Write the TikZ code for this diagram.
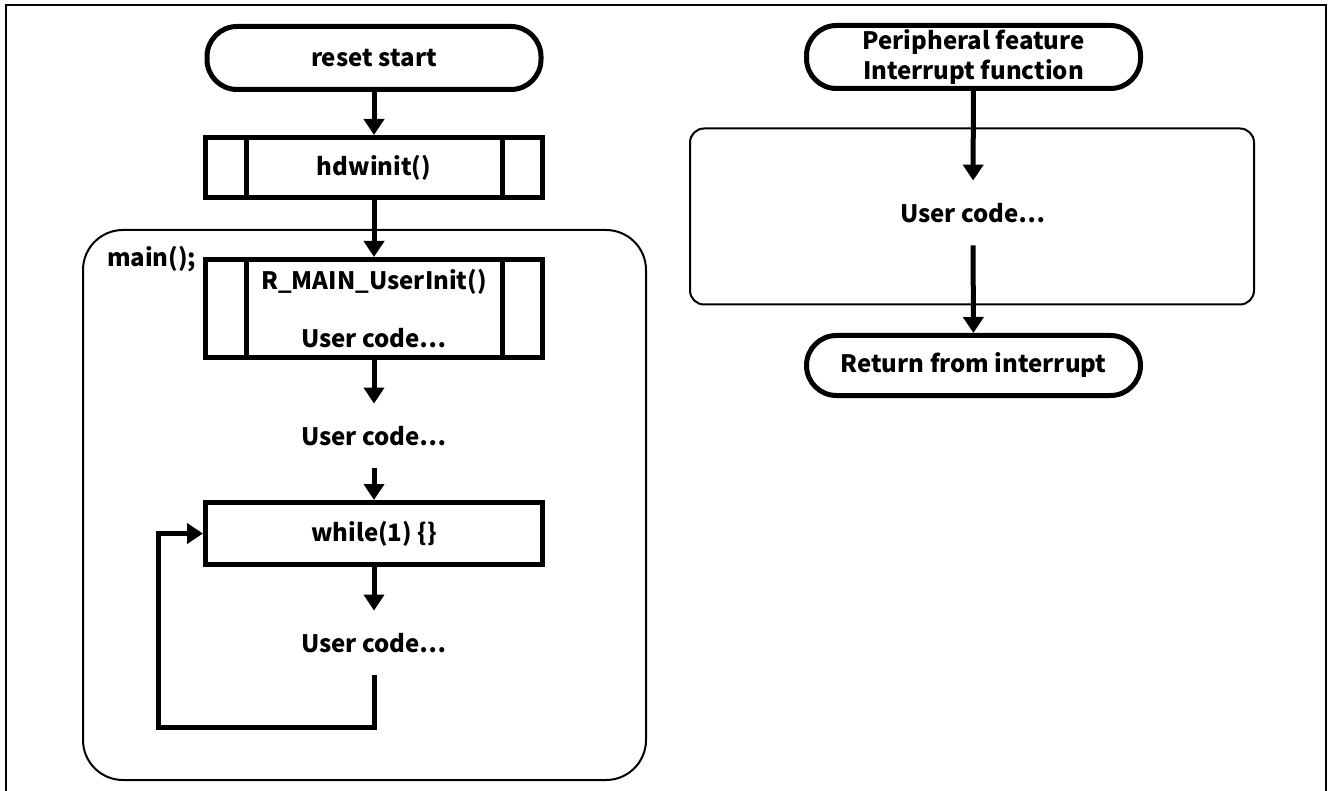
\documentclass[tikz,border=0pt]{standalone}
\usepackage{fontspec}
\usepackage{tikz}
\usetikzlibrary{shapes,arrows,positioning,calc,arrows.meta}
\newfontfamily\jpfont{Noto Sans CJK JP}

\begin{document}
\begin{tikzpicture}[
        x=0.5pt, y=-0.5pt,
        every node/.style={font=\jpfont\bfseries\fontsize{12}{15}\selectfont},
        term/.style={rectangle, draw=black, line width=2.5pt, rounded corners=15pt, minimum width=167pt, minimum height=31.5pt, inner sep=0pt, align=center},
        subproc/.style={rectangle, draw=black, line width=2.5pt, minimum width=168.5pt, minimum height=30pt, inner sep=0pt, align=center},
        plain/.style={minimum height=32pt, inner sep=0pt, align=center},
        group/.style={rectangle, draw=black, line width=1pt},
        arrow/.style={-{Triangle[length=8pt,width=10pt]}, line width=2.5pt},
      ]
      \useasboundingbox (0,0) rectangle (1328,791);
      \draw [line width=1.2pt] (6,5) rectangle (1326,820);
      % main() frame and interrupt frame
      \node [group, rounded corners=20pt, minimum width=281.5pt, minimum height=275pt] (mainfn) at (364.5,505) {};
      \node [anchor=west] (mainlbl) at (100,259) {main();};
      \node [group, rounded corners=7pt, minimum width=282pt, minimum height=88pt] (intfn) at (972,216.5) {};
      % reset flow
      \node [term] (reset) at (374,58) {reset start};
      \node [subproc] (hdw) at (374,167.5) {hdwinit()};
      \node [subproc, minimum height=49pt] (uinit) at (374,308.5) {R\_MAIN\_UserInit()\\[14pt]User code⋯};
      \node [plain] (ucode1) at (374,436) {User code⋯};
      \node [subproc, minimum height=31pt] (loop) at (374,533.5) {while(1) \{\}};
      \node [plain] (ucode2) at (374,643) {User code⋯};
      \coordinate (back) at (158,727);
      \foreach \n in {hdw,uinit} {
        \draw [line width=2.5pt] ([xshift=21.5pt]\n.north west) -- ([xshift=21.5pt]\n.south west);
        \draw [line width=2.5pt] ([xshift=-21.5pt]\n.north east) -- ([xshift=-21.5pt]\n.south east);
      }
      \draw [arrow] (reset) -- (hdw);
      \draw [arrow] (hdw) -- (uinit);
      \draw [arrow] (uinit) -- (ucode1);
      \draw [arrow] (ucode1) -- (loop);
      \draw [arrow] (loop) -- (ucode2);
      \draw [arrow] (ucode2.south) |- (back) |- (loop.west);
      % interrupt flow
      \node [term] (periph) at (973.5,57) {Peripheral feature\\Interrupt function};
      \node [plain] (ucode3) at (973,213) {User code⋯};
      \node [term, minimum height=30pt] (reti) at (973.5,365.5) {Return from interrupt};
      \draw [arrow] (periph) -- (ucode3);
      \draw [arrow] (ucode3) -- (reti);
    \end{tikzpicture}
\end{document}
